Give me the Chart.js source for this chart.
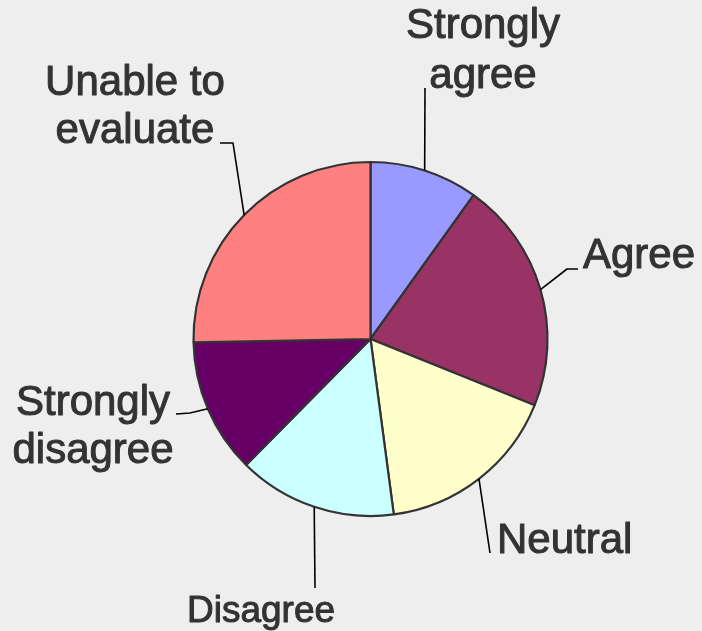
<!DOCTYPE html>
<html>
<head>
<meta charset="utf-8">
<script src="https://cdn.jsdelivr.net/npm/chart.js@4"></script>
<style>
  html, body { margin: 0; padding: 0; background: #eeeeee; }
  #wrap { width: 702px; height: 631px; }
</style>
</head>
<body>
<div id="wrap"><canvas id="chart" width="702" height="631"></canvas></div>
<script>
const categories = ['Strongly agree', 'Agree', 'Neutral', 'Disagree', 'Strongly disagree', 'Unable to evaluate'];
const shares = [9.9, 21.2, 16.8, 14.5, 12.3, 25.3];
const sliceColors = ['#9999ff', '#993366', '#ffffcc', '#ccffff', '#660066', '#ff8080'];

// callout text placement + bends of the leader line (line starts at the slice edge)
const callouts = [
  { lines: ['Strongly', 'agree'], x: 483, y: 38, lh: 50, align: 'center', size: 42, bends: [[425, 88]] },
  { lines: ['Agree'], x: 583, y: 268, lh: 48, align: 'left', size: 42, bends: [[567, 269], [578, 269]] },
  { lines: ['Neutral'], x: 497, y: 553, lh: 48, align: 'left', size: 42, bends: [[490, 553]] },
  { lines: ['Disagree'], x: 261, y: 622, lh: 48, align: 'center', size: 37, bends: [[315, 588]] },
  { lines: ['Strongly', 'disagree'], x: 93, y: 415, lh: 48, align: 'center', size: 42, bends: [[190, 413], [176, 414]] },
  { lines: ['Unable to', 'evaluate'], x: 135, y: 95, lh: 48, align: 'center', size: 42, bends: [[233, 143], [220, 143]] }
];

const calloutPlugin = {
    id: 'callouts',
    afterDatasetsDraw(chart) {
        const ctx = chart.ctx;
        const arcs = chart.getDatasetMeta(0).data;
        ctx.save();
        arcs.forEach((arc, i) => {
            const c = callouts[i];
            const { x, y, startAngle, endAngle, outerRadius } = arc.getProps(['x', 'y', 'startAngle', 'endAngle', 'outerRadius'], true);
            const mid = (startAngle + endAngle) / 2;
            ctx.beginPath();
            ctx.moveTo(x + Math.cos(mid) * outerRadius, y + Math.sin(mid) * outerRadius);
            c.bends.forEach(p => ctx.lineTo(p[0], p[1]));
            ctx.strokeStyle = '#000000';
            ctx.lineWidth = 1.6;
            ctx.stroke();

            // slightly heavier text, like the original
            ctx.fillStyle = '#333333';
            ctx.strokeStyle = '#333333';
            ctx.lineWidth = 1;
            ctx.lineJoin = 'round';
            ctx.font = c.size + 'px "Liberation Sans", Arial, sans-serif';
            ctx.textAlign = c.align;
            ctx.textBaseline = 'alphabetic';
            c.lines.forEach((t, k) => {
                ctx.fillText(t, c.x, c.y + k * c.lh);
                ctx.strokeText(t, c.x, c.y + k * c.lh);
            });
        });
        ctx.restore();
    }
};

new Chart(document.getElementById('chart'), {
    type: 'pie',
    data: {
        labels: categories,
        datasets: [{
            data: shares,
            backgroundColor: sliceColors,
            borderColor: '#333333',
            borderWidth: 2.2
        }]
    },
    options: {
        responsive: false,
        animation: false,
        radius: 177,
        layout: { padding: { left: 39, right: 0, top: 47, bottom: 0 } },
        plugins: {
            legend: { display: false },
            tooltip: { enabled: false }
        }
    },
    plugins: [calloutPlugin]
});
</script>
</body>
</html>
